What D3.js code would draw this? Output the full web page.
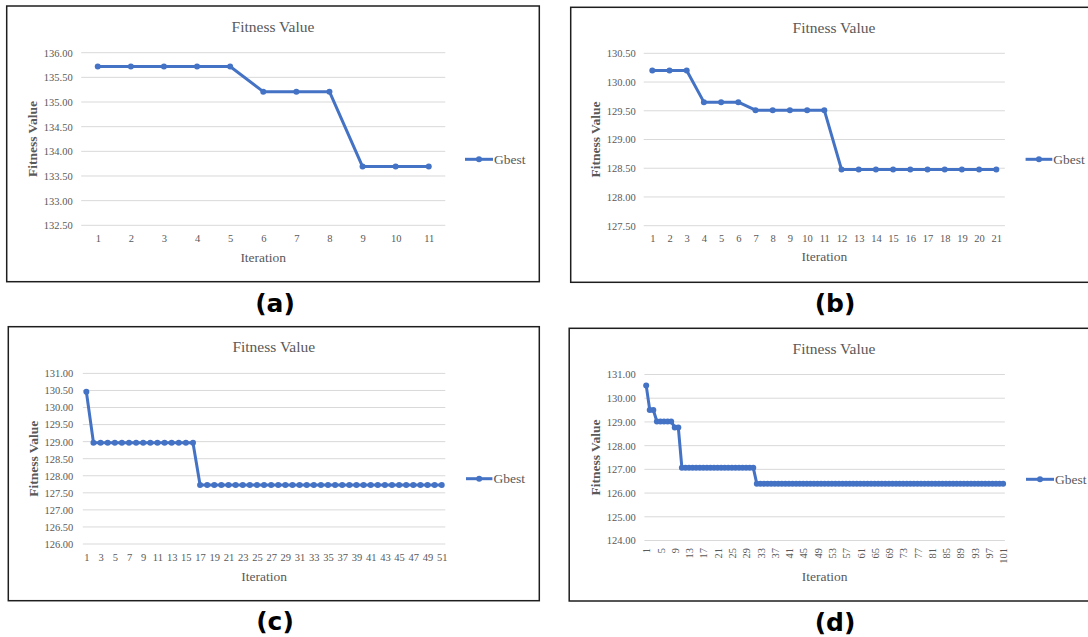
<!DOCTYPE html>
<html>
<head>
<meta charset="utf-8">
<script src="https://cdn.jsdelivr.net/npm/d3@7"></script>
<style>
body {margin:0; background:#fff;}
svg text {font-family:"Liberation Serif","Times New Roman",serif; fill:#595959;}
svg text.lab {font-family:"DejaVu Sans",Verdana,sans-serif; font-weight:bold; fill:#000;}
</style>
</head>
<body>
<svg width="1088" height="637"></svg>
<script>
// iterations and Gbest fitness per run
const iterA = [1,2,3,4,5,6,7,8,9,10,11]
const gbestA = [135.72,135.72,135.72,135.72,135.72,135.21,135.21,135.21,133.69,133.69,133.69]

const iterB = [1,2,3,4,5,6,7,8,9,10,11,12,13,14,15,16,17,18,19,20,21]
const gbestB = [130.20,130.20,130.20,129.65,129.65,129.65,129.51,129.51,129.51,129.51,129.51,
  128.48,128.48,128.48,128.48,128.48,128.48,128.48,128.48,128.48,128.48]

const iterC = [1,2,3,4,5,6,7,8,9,10,11,12,13,14,15,16,17,18,19,20,21,22,23,24,25,26,27,28,29,30,
  31,32,33,34,35,36,37,38,39,40,41,42,43,44,45,46,47,48,49,50,51]
const gbestC = [130.46,
  128.97,128.97,128.97,128.97,128.97,128.97,128.97,128.97,128.97,128.97,128.97,128.97,128.97,128.97,128.97,
  127.73,127.73,127.73,127.73,127.73,127.73,127.73,127.73,127.73,127.73,127.73,127.73,127.73,127.73,127.73,
  127.73,127.73,127.73,127.73,127.73,127.73,127.73,127.73,127.73,127.73,127.73,127.73,127.73,127.73,127.73,
  127.73,127.73,127.73,127.73,127.73]

const iterD = [1,2,3,4,5,6,7,8,9,10,11,12,13,14,15,16,17,18,19,20,21,22,23,24,25,26,27,28,29,30,
  31,32,33,34,35,36,37,38,39,40,41,42,43,44,45,46,47,48,49,50,51,52,53,54,55,56,57,58,59,60,
  61,62,63,64,65,66,67,68,69,70,71,72,73,74,75,76,77,78,79,80,81,82,83,84,85,86,87,88,89,90,
  91,92,93,94,95,96,97,98,99,100,101]
const gbestD = [130.54,129.50,129.50,129.02,129.02,129.02,129.02,129.02,128.77,128.77,
  127.07,127.07,127.07,127.07,127.07,127.07,127.07,127.07,127.07,127.07,127.07,
  127.07,127.07,127.07,127.07,127.07,127.07,127.07,127.07,127.07,127.07,
  126.39,126.39,126.39,126.39,126.39,126.39,126.39,126.39,126.39,126.39,
  126.39,126.39,126.39,126.39,126.39,126.39,126.39,126.39,126.39,126.39,
  126.39,126.39,126.39,126.39,126.39,126.39,126.39,126.39,126.39,126.39,
  126.39,126.39,126.39,126.39,126.39,126.39,126.39,126.39,126.39,126.39,
  126.39,126.39,126.39,126.39,126.39,126.39,126.39,126.39,126.39,126.39,
  126.39,126.39,126.39,126.39,126.39,126.39,126.39,126.39,126.39,126.39,
  126.39,126.39,126.39,126.39,126.39,126.39,126.39,126.39,126.39,126.39]

// tick labels
const yTicksA = [132.5,133,133.5,134,134.5,135,135.5,136]
const yTicksB = [127.5,128,128.5,129,129.5,130,130.5]
const yTicksC = [126,126.5,127,127.5,128,128.5,129,129.5,130,130.5,131]
const yTicksD = [124,125,126,127,128,129,130,131]
const xTicksC = [1,3,5,7,9,11,13,15,17,19,21,23,25,27,29,31,33,35,37,39,41,43,45,47,49,51]
const xTicksD = [1,5,9,13,17,21,25,29,33,37,41,45,49,53,57,61,65,69,73,77,81,85,89,93,97,101]

const blue = '#4472C4'
const svg = d3.select('svg')

function panel(p) {
  const g = svg.append('g')
  g.append('rect')
    .attr('x', p.fx).attr('y', p.fy).attr('width', p.fw).attr('height', p.fh)
    .attr('fill', 'none').attr('stroke', '#1e1e1e').attr('stroke-width', 1.5)

  const x = d3.scalePoint().domain(p.iters).range([p.l, p.r]).padding(0.5)
  const y = d3.scaleLinear().domain([p.yTicks[0], p.yTicks[p.yTicks.length-1]]).range([p.b, p.t])

  g.selectAll('line.grid').data(p.yTicks).join('line')
    .attr('x1', p.l).attr('x2', p.r)
    .attr('y1', d => y(d)).attr('y2', d => y(d))
    .attr('stroke', '#d9d9d9').attr('stroke-width', 1)

  const ya = g.append('g').attr('transform', 'translate(' + p.l + ',0)')
    .call(d3.axisLeft(y).tickValues(p.yTicks).tickFormat(d3.format('.2f')).tickSize(0).tickPadding(p.l - p.yr))
  ya.select('.domain').remove()
  ya.selectAll('text').attr('font-size', 10.5)

  const xa = g.append('g').attr('transform', 'translate(0,' + p.b + ')')
    .call(d3.axisBottom(x).tickValues(p.xTicks || p.iters).tickSize(0))
  xa.select('.domain').remove()
  if (p.rot) {
    xa.selectAll('text').attr('font-size', 10.5)
      .attr('transform', 'rotate(-90)').attr('y', 0).attr('x', -(p.xt - p.b))
      .attr('dy', '0.35em').attr('text-anchor', 'end')
  } else {
    xa.selectAll('text').attr('font-size', 10.5).attr('y', p.xt - p.b).attr('dy', '0.35em')
  }

  g.append('text').attr('x', p.tx).attr('y', p.ty).attr('dy', '0.35em')
    .attr('text-anchor', 'middle').attr('font-size', 15.5).text('Fitness Value')
  g.append('text').attr('transform', 'translate(' + p.ytx + ',' + ((p.t + p.b) / 2) + ') rotate(-90)')
    .attr('dy', '0.35em').attr('text-anchor', 'middle').attr('font-size', 13.5)
    .style('font-weight', 'bold').text('Fitness Value')
  g.append('text').attr('x', (p.l + p.r) / 2).attr('y', p.it).attr('dy', '0.35em')
    .attr('text-anchor', 'middle').attr('font-size', 13.5).text('Iteration')

  const line = d3.line().x((d, i) => x(p.iters[i])).y(d => y(d))
  g.append('path').datum(p.vals).attr('d', line)
    .attr('fill', 'none').attr('stroke', blue).attr('stroke-width', 3).attr('stroke-linejoin', 'round')
  g.selectAll('circle.pt').data(p.vals).join('circle')
    .attr('cx', (d, i) => x(p.iters[i])).attr('cy', d => y(d)).attr('r', 3).attr('fill', blue)

  // legend
  g.append('line').attr('x1', p.lx1).attr('x2', p.lx2).attr('y1', p.ly).attr('y2', p.ly)
    .attr('stroke', blue).attr('stroke-width', 3)
  g.append('circle').attr('cx', (p.lx1 + p.lx2) / 2).attr('cy', p.ly).attr('r', 3).attr('fill', blue)
  g.append('text').attr('x', p.lx2 + 1).attr('y', p.ly).attr('dy', '0.35em')
    .attr('font-size', 13.5).text('Gbest')

  g.append('text').attr('class', 'lab').attr('x', p.labx).attr('y', p.laby)
    .attr('text-anchor', 'middle').attr('font-size', 25).text(p.label)
}

panel({iters: iterA, vals: gbestA, yTicks: yTicksA, label: '(a)',
  fx: 6.7, fy: 6, fw: 532.6, fh: 275.7, l: 81.2, r: 445.3, t: 52.7, b: 225.3,
  yr: 72.7, ytx: 32.3, tx: 273, ty: 27, xt: 238, it: 257.3,
  lx1: 465, lx2: 493, ly: 159.3, labx: 275, laby: 311.5})

panel({iters: iterB, vals: gbestB, yTicks: yTicksB, label: '(b)',
  fx: 570.7, fy: 7.3, fw: 526, fh: 275, l: 643.7, r: 1004.9, t: 53.3, b: 225.7,
  yr: 635.7, ytx: 595.7, tx: 834, ty: 27.7, xt: 238.3, it: 256.7,
  lx1: 1025.6, lx2: 1052.3, ly: 159.3, labx: 835, laby: 312})

panel({iters: iterC, vals: gbestC, yTicks: yTicksC, xTicks: xTicksC, label: '(c)',
  fx: 8.3, fy: 326.7, fw: 531, fh: 274, l: 82.8, r: 445.3, t: 373.4, b: 544,
  yr: 73.3, ytx: 33.4, tx: 273.8, ty: 346.7, xt: 557.3, it: 576,
  lx1: 466, lx2: 492.4, ly: 478.7, labx: 275, laby: 630})

panel({iters: iterD, vals: gbestD, yTicks: yTicksD, xTicks: xTicksD, rot: true, label: '(d)',
  fx: 569.2, fy: 328.3, fw: 528, fh: 272.7, l: 644.4, r: 1004.9, t: 374.5, b: 540.5,
  yr: 635.7, ytx: 595.2, tx: 834, ty: 349, xt: 548, it: 576.7,
  lx1: 1026, lx2: 1054, ly: 479.3, labx: 835, laby: 631})
</script>
</body>
</html>
